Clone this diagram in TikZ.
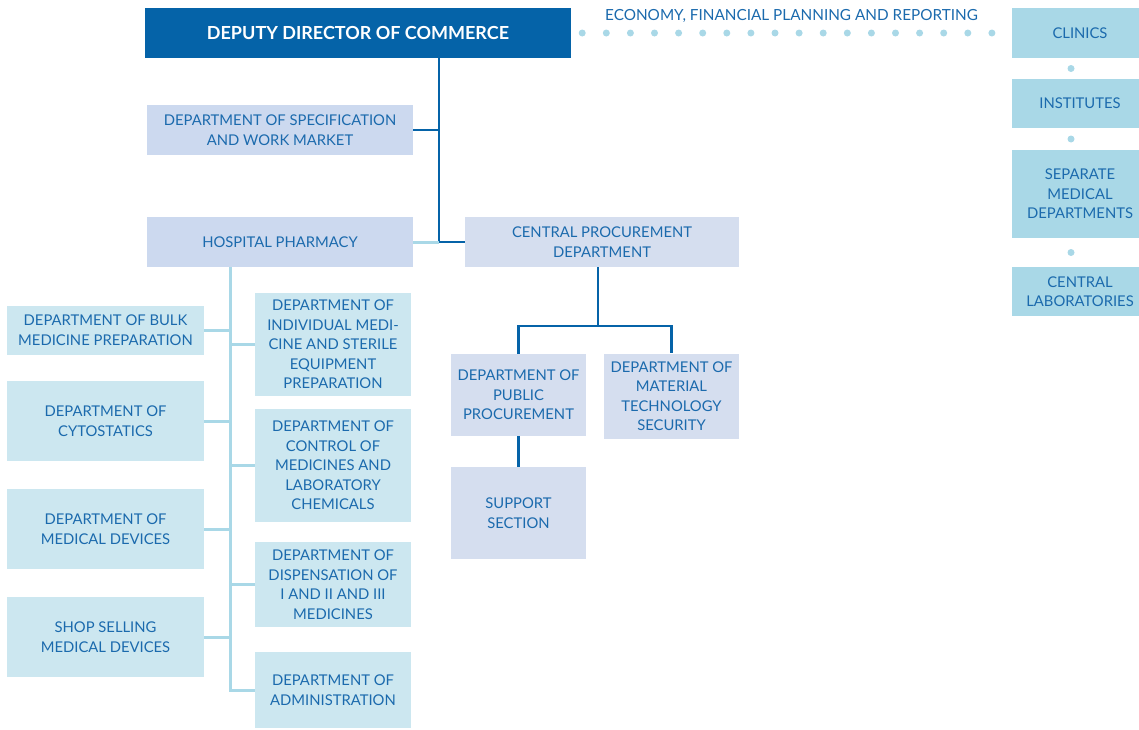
\documentclass[tikz,border=0pt]{standalone}
\usepackage{fontspec}
\setmainfont{Lato}
\usetikzlibrary{positioning}
\definecolor{dirblue}{HTML}{0563A8}
\definecolor{txtblue}{HTML}{1B6AAD}
\definecolor{lavbox}{HTML}{CCD9EF}
\definecolor{procbox}{HTML}{D5DEEF}
\definecolor{pharmbox}{HTML}{CCE7F0}
\definecolor{unitbox}{HTML}{A9D8E7}
\tikzset{
    box/.style={
           rectangle,
           inner sep=2pt,
           align=center,
           text=txtblue,
           font=\fontsize{14.8}{19.5}\selectfont,
           },
    director/.style={box, fill=dirblue, text=white,
           font=\fontsize{18}{19.5}\selectfont\bfseries},
    dept/.style={box, fill=lavbox},
    proc/.style={box, fill=procbox},
    pharm/.style={box, fill=pharmbox},
    unit/.style={box, fill=unitbox},
    darkline/.style={draw=dirblue, line width=2.5pt},
    lightline/.style={draw=unitbox, line width=3pt},
    dotline/.style={draw=unitbox, line width=7pt, line cap=round,
           dash pattern=on 0pt off 24.1pt},
    dotnode/.style={circle, fill=unitbox, inner sep=0pt, minimum size=7pt},
}

\begin{document}
\begin{tikzpicture}[x=1pt,y=-1pt]

 \useasboundingbox (0,0) rectangle (1139,729);

 % top level
 \node[director, minimum width=426, minimum height=50] (dir) at (358,33)
  {DEPUTY DIRECTOR OF COMMERCE};
 \node[dept, minimum width=266, minimum height=50] (spec) at (280,130)
  {DEPARTMENT OF SPECIFICATION\\AND WORK MARKET};
 \node[dept, minimum width=266, minimum height=50] (hp) at (280,242)
  {HOSPITAL PHARMACY};
 \node[proc, minimum width=274, minimum height=50] (cpd) at (602,242)
  {CENTRAL PROCUREMENT\\DEPARTMENT};

 % procurement
 \node[proc, minimum width=135, minimum height=82] (pub) at (518.5,395)
  {DEPARTMENT OF\\PUBLIC\\PROCUREMENT};
 \node[proc, minimum width=135, minimum height=85] (mat) at (671.5,396)
  {DEPARTMENT OF\\MATERIAL\\TECHNOLOGY\\SECURITY};
 \node[proc, minimum width=135, minimum height=92] (sup) at (518.5,513)
  {SUPPORT\\SECTION};

 % pharmacy, left column
 \node[pharm, minimum width=197, minimum height=49] (bulk) at (105.5,330)
  {DEPARTMENT OF BULK\\MEDICINE PREPARATION};
 \node[pharm, minimum width=197, minimum height=80] (cyto) at (105.5,421)
  {DEPARTMENT OF\\CYTOSTATICS};
 \node[pharm, minimum width=197, minimum height=80] (meddev) at (105.5,529)
  {DEPARTMENT OF\\MEDICAL DEVICES};
 \node[pharm, minimum width=197, minimum height=80] (shop) at (105.5,637)
  {SHOP SELLING\\MEDICAL DEVICES};

 % pharmacy, right column
 \node[pharm, minimum width=156, minimum height=103] (indiv) at (333,344.5)
  {DEPARTMENT OF\\INDIVIDUAL MEDI-\\CINE AND STERILE\\EQUIPMENT\\PREPARATION};
 \node[pharm, minimum width=156, minimum height=113] (ctrl) at (333,465.5)
  {DEPARTMENT OF\\CONTROL OF\\MEDICINES AND\\LABORATORY\\CHEMICALS};
 \node[pharm, minimum width=156, minimum height=85] (disp) at (333,584.5)
  {DEPARTMENT OF\\DISPENSATION OF\\I AND II AND III\\MEDICINES};
 \node[pharm, minimum width=156, minimum height=76] (adm) at (333,690)
  {DEPARTMENT OF\\ADMINISTRATION};

 % units on the right
 \node[unit, minimum width=136, minimum height=50] (clin) at (1080,33)
  {CLINICS};
 \node[unit, minimum width=136, minimum height=49] (inst) at (1080,103.5)
  {INSTITUTES};
 \node[unit, minimum width=136, minimum height=88] (sep) at (1080,194)
  {SEPARATE\\MEDICAL\\DEPARTMENTS};
 \node[unit, minimum width=136, minimum height=49] (lab) at (1080,291.5)
  {CENTRAL\\LABORATORIES};

 % connectors
 \coordinate (jct) at (439,242);
 \draw[darkline] (jct |- dir.south) -- (jct) -- (cpd.west);
 \draw[darkline] (spec.east) -- (spec.east -| jct);
 \draw[lightline] (hp.east) -- (jct);

 \coordinate (cpdfork) at (598,326);
 \draw[darkline] (cpd.south -| cpdfork) -- (cpdfork);
 \draw[darkline] (pub.north) |- (cpdfork) -| (mat.north);
 \draw[darkline] (pub) -- (sup);

 \coordinate (spine) at (230,0);
 \draw[lightline] (hp.south -| spine) |- (adm.west);
 \foreach \n in {bulk,cyto,meddev,shop}
  \draw[lightline] (\n.east) -- (\n.east -| spine);
 \foreach \n in {indiv,ctrl,disp}
  \draw[lightline] (\n.west) -- (\n.west -| spine);

 \draw[dotline, shorten <=11pt, shorten >=14pt] (dir.east) -- (clin.west)
  node[midway, above=5pt, box, fill=none, font=\fontsize{15.3}{19.5}\selectfont]
  {ECONOMY, FINANCIAL PLANNING AND REPORTING};
 \foreach \a/\b in {clin/inst,inst/sep,sep/lab}
  \path (\a.south) -- (\b.north) node[midway, xshift=-9pt, dotnode] {};

\end{tikzpicture}
\end{document}
